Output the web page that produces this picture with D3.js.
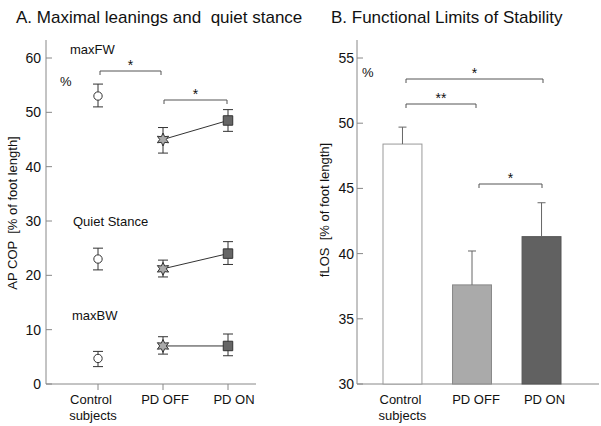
<!DOCTYPE html>
<html>
<head>
<meta charset="utf-8">
<script src="https://cdn.jsdelivr.net/npm/d3@7"></script>
<style>
  body { margin: 0; background: #fff; }
  text { font-family: "Liberation Sans", Arial, sans-serif; fill: #111; white-space: pre; }
</style>
</head>
<body>
<div id="chart"></div>
<script>
var groups = ["Control subjects", "PD OFF", "PD ON"];

// panel A: mean, low, high
var maxFW = [53, 45, 48.5];
var maxFWLo = [51, 42.5, 46.5];
var maxFWHi = [55.2, 47.2, 50.5];
var quiet = [23, 21.2, 24];
var quietLo = [21, 19.7, 22];
var quietHi = [25, 22.8, 26.2];
var maxBW = [4.7, 7, 7];
var maxBWLo = [3.2, 5.5, 5.2];
var maxBWHi = [6, 8.7, 9.2];
var ticksA = [0, 10, 20, 30, 40, 50, 60];

// panel B
var flos = [48.4, 37.6, 41.3];
var flosHi = [49.7, 40.2, 43.9];
var ticksB = [30, 35, 40, 45, 50, 55];

var width = 601, height = 426;
var axisCol = "#888";

var svg = d3.select("#chart").append("svg")
    .attr("width", width)
    .attr("height", height);

// ---------- panel A ----------
var xA = d3.scalePoint().domain(groups).range([98, 228]).padding(0);
var yA = d3.scaleLinear().domain([0, 60]).range([384, 58]);

svg.append("text").attr("x", 16).attr("y", 23)
    .style("font-size", "17px").text("A. Maximal leanings and  quiet stance");

var gA = svg.append("g");
gA.append("line").attr("x1", 46).attr("x2", 46).attr("y1", 40).attr("y2", 384)
    .attr("stroke", axisCol);
gA.append("line").attr("x1", 46).attr("x2", 256).attr("y1", 384).attr("y2", 384)
    .attr("stroke", axisCol);

ticksA.forEach(function (t) {
  gA.append("line").attr("x1", 46).attr("x2", 52).attr("y1", yA(t)).attr("y2", yA(t))
      .attr("stroke", axisCol);
  gA.append("text").attr("x", 41).attr("y", yA(t) + 5).attr("text-anchor", "end")
      .style("font-size", "14px").text(t);
});
groups.forEach(function (g) {
  gA.append("line").attr("x1", xA(g)).attr("x2", xA(g)).attr("y1", 384).attr("y2", 390)
      .attr("stroke", axisCol);
});

function groupLabels(sel, scale, offsets) {
  groups.forEach(function (g, i) {
    var t = sel.append("text").attr("x", scale(g) + offsets[i]).attr("y", 404)
        .attr("text-anchor", "middle").style("font-size", "13px");
    if (g == "Control subjects") {
      t.append("tspan").attr("x", scale(g) + offsets[i] - 2).text("Control");
      t.append("tspan").attr("x", scale(g) + offsets[i]).attr("dy", 16).text("subjects");
    } else {
      t.text(g);
    }
  });
}
groupLabels(gA, xA, [-5, 2, 6]);

gA.append("text").attr("transform", "translate(17,213) rotate(-90)")
    .attr("text-anchor", "middle").style("font-size", "13px")
    .text("AP COP  [% of foot length]");

gA.append("text").attr("x", 70).attr("y", 54).style("font-size", "13px").text("maxFW");
gA.append("text").attr("x", 60).attr("y", 86).style("font-size", "13px").text("%");
gA.append("text").attr("x", 73).attr("y", 226).style("font-size", "13px").text("Quiet Stance");
gA.append("text").attr("x", 72).attr("y", 320).style("font-size", "13px").text("maxBW");

var fills = ["#fff", "#aaa", "#666"];
// six-pointed star
var starPts = d3.range(12).map(function (k) {
  return [k * Math.PI / 6, k % 2 ? 3.3 : 6.5];
});
var star = d3.lineRadial().curve(d3.curveLinearClosed)(starPts);
var square = d3.symbol().type(d3.symbolSquare).size(90)();
var circle = d3.symbol().type(d3.symbolCircle).size(55)();

function series(vals, lo, hi) {
  // connecting line PD OFF -> PD ON
  gA.append("line").attr("x1", xA(groups[1])).attr("x2", xA(groups[2]))
      .attr("y1", yA(vals[1])).attr("y2", yA(vals[2]))
      .attr("stroke", "#333").attr("stroke-width", 1);
  groups.forEach(function (g, i) {
    var x = xA(g);
    gA.append("line").attr("x1", x).attr("x2", x).attr("y1", yA(lo[i])).attr("y2", yA(hi[i]))
        .attr("stroke", "#333");
    [lo[i], hi[i]].forEach(function (v) {
      gA.append("line").attr("x1", x - 5).attr("x2", x + 5).attr("y1", yA(v)).attr("y2", yA(v))
          .attr("stroke", "#333");
    });
    var sym = i == 0 ? circle : (i == 1 ? star : square);
    gA.append("path").attr("d", sym)
        .attr("transform", "translate(" + x + "," + yA(vals[i]) + ")")
        .attr("fill", fills[i]).attr("stroke", "#333").attr("stroke-width", 1);
  });
}
series(maxFW, maxFWLo, maxFWHi);
series(quiet, quietLo, quietHi);
series(maxBW, maxBWLo, maxBWHi);

function bracket(sel, x1, x2, y, label) {
  sel.append("path")
      .attr("d", "M" + x1 + "," + (y + 4) + "V" + y + "H" + x2 + "V" + (y + 4))
      .attr("fill", "none").attr("stroke", "#555");
  sel.append("text").attr("x", (x1 + x2) / 2).attr("y", y - 1)
      .attr("text-anchor", "middle").style("font-size", "14px").text(label);
}
bracket(gA, 100, 161, 71, "*");
bracket(gA, 164, 227, 100, "*");

// ---------- panel B ----------
var xB = d3.scaleBand().domain(groups).range([383, 561]).paddingInner(0.44).paddingOuter(0);
var yB = d3.scaleLinear().domain([30, 55]).range([384, 58]);

svg.append("text").attr("x", 331).attr("y", 23)
    .style("font-size", "17px").text("B. Functional Limits of Stability");

var gB = svg.append("g");
gB.append("line").attr("x1", 357).attr("x2", 357).attr("y1", 40).attr("y2", 384)
    .attr("stroke", axisCol);
gB.append("line").attr("x1", 357).attr("x2", 599).attr("y1", 384).attr("y2", 384)
    .attr("stroke", axisCol);
ticksB.forEach(function (t) {
  gB.append("line").attr("x1", 357).attr("x2", 363).attr("y1", yB(t)).attr("y2", yB(t))
      .attr("stroke", axisCol);
  gB.append("text").attr("x", 354).attr("y", yB(t) + 5).attr("text-anchor", "end")
      .style("font-size", "14px").text(t);
});

gB.selectAll("rect.bar").data(groups).enter().append("rect")
    .attr("class", "bar")
    .attr("x", function (d) { return xB(d); })
    .attr("width", xB.bandwidth())
    .attr("y", function (d, i) { return yB(flos[i]); })
    .attr("height", function (d, i) { return yB(30) - yB(flos[i]); })
    .attr("fill", function (d, i) { return ["#fff", "#aaa", "#616161"][i]; })
    .attr("stroke", function (d, i) { return ["#999", "#888", "#555"][i]; });

groups.forEach(function (g, i) {
  var x = xB(g) + xB.bandwidth() / 2;
  gB.append("line").attr("x1", x).attr("x2", x).attr("y1", yB(flos[i])).attr("y2", yB(flosHi[i]))
      .attr("stroke", "#666");
  gB.append("line").attr("x1", x - 4).attr("x2", x + 4).attr("y1", yB(flosHi[i])).attr("y2", yB(flosHi[i]))
      .attr("stroke", "#666");
});

var groupsB = d3.scalePoint().domain(groups).range([xB(groups[0]) + xB.bandwidth() / 2, xB(groups[2]) + xB.bandwidth() / 2]);
groupLabels(gB, groupsB, [0, 4, 3]);

gB.append("text").attr("transform", "translate(329,210) rotate(-90)")
    .attr("text-anchor", "middle").style("font-size", "13px")
    .text("fLOS  [% of foot length]");
gB.append("text").attr("x", 362).attr("y", 77).style("font-size", "13px").text("%");

bracket(gB, 406, 543, 79, "*");
bracket(gB, 406, 476, 104, "**");
bracket(gB, 479, 542, 184, "*");
</script>
</body>
</html>
